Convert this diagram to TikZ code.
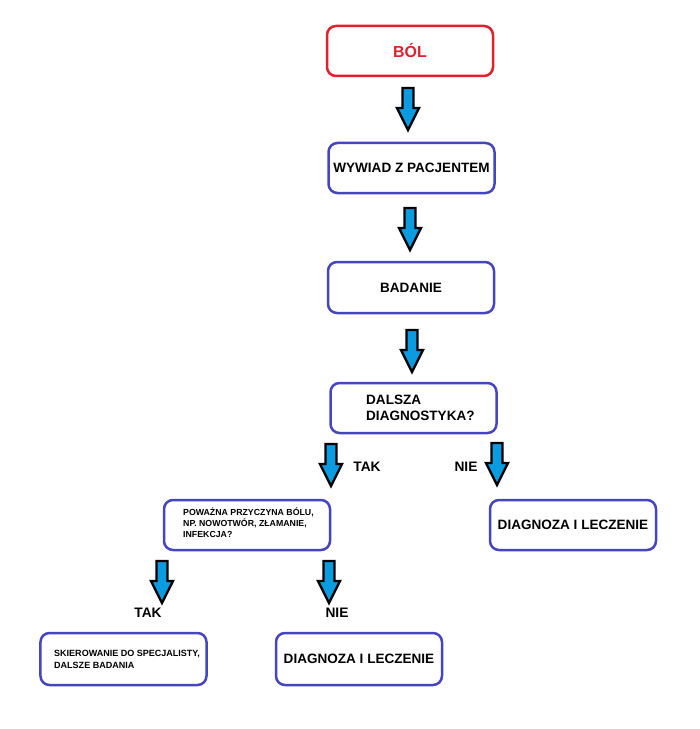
\documentclass[tikz,border=0pt]{standalone}
\usepackage{fontspec}
\setmainfont{Liberation Sans}
\definecolor{boxblue}{HTML}{4545C0}
\definecolor{boxred}{HTML}{E0202C}
\definecolor{arrowfill}{HTML}{0A9BE0}
\tikzset{
  box/.style={draw=boxblue, line width=2.5bp, rounded corners=9bp, minimum width=166bp, minimum height=50bp, inner sep=0pt, font=\bfseries\fontsize{13.6}{15}\selectfont},
  redbox/.style={box, draw=boxred, text=boxred, font=\bfseries\fontsize{16}{18}\selectfont},
  smalltxt/.style={font=\bfseries\fontsize{8.8}{11}\selectfont, inner sep=0pt, align=left, anchor=west},
  lbl/.style={font=\bfseries\fontsize{13.8}{15}\selectfont, inner sep=0pt},
  blockarrow/.pic={\draw[fill=arrowfill, draw=black, line width=2.4bp, line join=miter]
      (-5.5,0) -- (5.5,0) -- (5.5,20) -- (11,20) -- (0,42) -- (-11,20) -- (-5.5,20) -- cycle;}
}
\begin{document}
\begin{tikzpicture}[x=1bp,y=-1bp]
\useasboundingbox (0,0) rectangle (700,729);
% boxes
\node[redbox] (bol) at (410,51) {BÓL};
\node[box] (wywiad) at (411.5,168) {WYWIAD Z PACJENTEM};
\node[box, minimum height=51bp] (badanie) at (411,287.5) {BADANIE};
\node[box] (dalsza) at (413.5,408) {};
\node[smalltxt, font=\bfseries\fontsize{13.6}{16}\selectfont] (dalszat) at (366,408) {DALSZA\\DIAGNOSTYKA?};
\node[box] (powazna) at (247,525) {};
\node[smalltxt] (powaznat) at (183,523) {POWAŻNA PRZYCZYNA BÓLU,\\NP. NOWOTWÓR, ZŁAMANIE,\\INFEKCJA?};
\node[box] (diag1) at (573,525) {DIAGNOZA I LECZENIE};
\node[box, minimum height=52bp] (skier) at (123.5,659) {};
\node[smalltxt, font=\bfseries\fontsize{9.05}{12}\selectfont] (skiert) at (54,659) {SKIEROWANIE DO SPECJALISTY,\\DALSZE BADANIA};
\node[box, minimum height=52bp] (diag2) at (359,659) {DIAGNOZA I LECZENIE};
% arrows
\pic at (408,88) {blockarrow};
\pic at (410,208) {blockarrow};
\pic at (412,330) {blockarrow};
\pic at (331,444) {blockarrow};
\pic at (497,443) {blockarrow};
\pic at (162,561) {blockarrow};
\pic at (329,561) {blockarrow};
% labels
\node[lbl] (tak1) at (367,467) {TAK};
\node[lbl] (nie1) at (466,467) {NIE};
\node[lbl] (tak2) at (148,613) {TAK};
\node[lbl] (nie2) at (337,613) {NIE};
\end{tikzpicture}
\end{document}
